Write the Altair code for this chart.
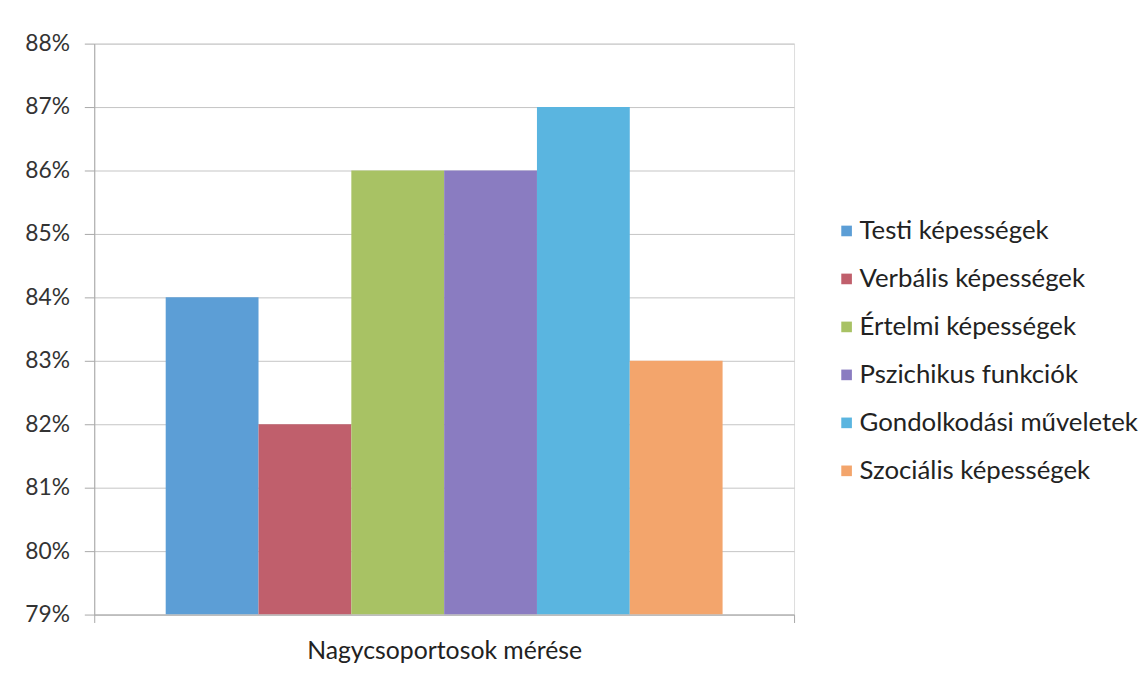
import altair as alt
import pandas as pd

category = ["Nagycsoportosok mérése"]
series = ["Testi képességek", "Verbális képességek", "Értelmi képességek",
          "Pszichikus funkciók", "Gondolkodási műveletek", "Szociális képességek"]
values = [0.84, 0.82, 0.86, 0.86, 0.87, 0.83]
colors = ["#5c9ed6", "#c05f6c", "#a8c264", "#8a7cc1", "#5ab5e0", "#f3a56c"]

df = pd.DataFrame({"cat": category * len(series), "series": series, "value": values})

FONT = "Lato"

chart = alt.Chart(df).mark_bar(clip=True).encode(
    x=alt.X("cat:N", title=None,
            scale=alt.Scale(paddingInner=0, paddingOuter=0),
            axis=alt.Axis(labelAngle=0, tickBand="extent", ticks=True, tickSize=8,
                          tickColor="#a8a8a8", domainColor="#a8a8a8", labelPadding=16,
                          labelFontSize=25, labelColor="#222222", labelFont=FONT,
                          labelLimit=0, grid=False)),
    xOffset=alt.XOffset("series:N", sort=series,
                        scale=alt.Scale(domain=series, paddingInner=0, paddingOuter=0.77)),
    y=alt.Y("value:Q", title=None,
            scale=alt.Scale(domain=[0.79, 0.88], zero=False, nice=False),
            axis=alt.Axis(format=".0%", values=[0.79 + i * 0.01 for i in range(10)],
                          labelFontSize=23, labelColor="#333333", labelFont=FONT,
                          gridColor="#c4c4c4", domainColor="#a8a8a8", tickColor="#a8a8a8",
                          tickSize=10, labelPadding=15)),
    y2=alt.Y2(datum=0.79),
    color=alt.Color("series:N", sort=series,
                    scale=alt.Scale(domain=series, range=colors),
                    legend=alt.Legend(title=None, orient="none", legendX=746, legendY=176,
                                      symbolType="square", symbolSize=115, symbolStrokeWidth=0,
                                      labelFontSize=26, labelFont=FONT, labelColor="#222222",
                                      labelLimit=0, rowPadding=22.4, labelOffset=0)),
).properties(
    width=706, height=576,
    padding={"left": 16, "top": 22, "right": 2, "bottom": 5},
).configure_view(stroke=None).configure(background="white")

chart.save("out.html", embed_options={"renderer": "svg", "actions": False})
